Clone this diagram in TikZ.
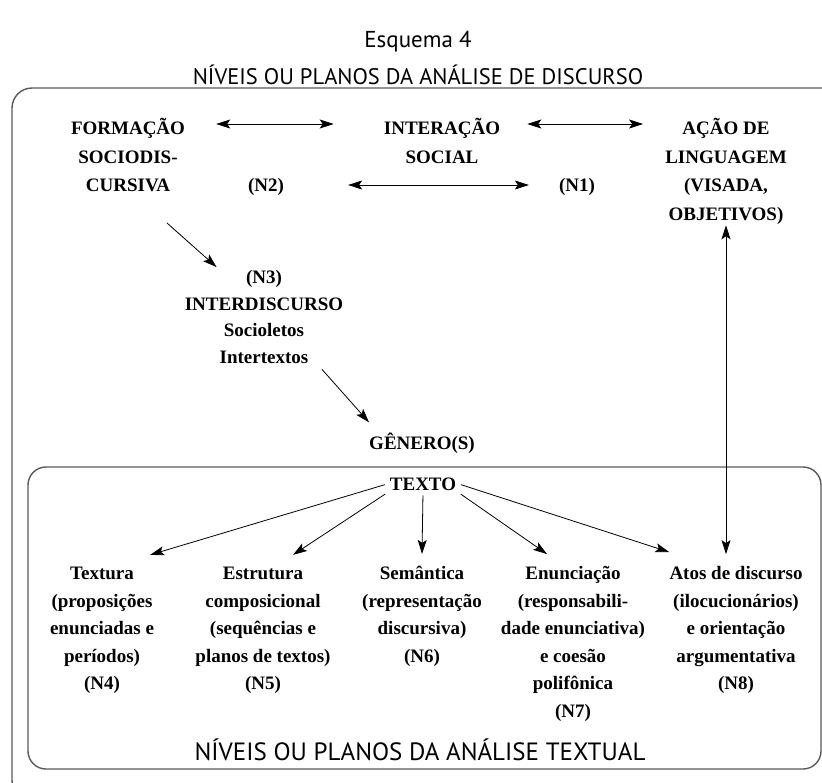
\documentclass[tikz,border=0pt]{standalone}
\usepackage{fontspec}
\setmainfont{Liberation Serif}
\newfontfamily\titlefont{PT Sans}
\usetikzlibrary{arrows.meta,positioning}

\tikzset{
  lvl/.style={font=\fontsize{19}{#1}\selectfont\bfseries, align=center, inner sep=2pt, anchor=base},
  lvl/.default=27.5,
  frame/.style={draw=black!65, line width=1.4pt},
  link/.style={line width=0.8pt, -{Stealth[length=14pt,width=9pt,inset=3pt]}},
  dlink/.style={line width=0.8pt, {Stealth[length=14pt,width=9pt,inset=3pt]}-{Stealth[length=14pt,width=9pt,inset=3pt]}},
}

\begin{document}
\begin{tikzpicture}[x=1pt,y=-1pt]
\useasboundingbox (0,0) rectangle (822,782);
\clip (0,0) rectangle (822,782);

% titles
\node[font=\titlefont\fontsize{23}{27}\selectfont] (esquema) at (418,42) {Esquema 4};
\node[font=\titlefont\fontsize{22.5}{26}\selectfont] (titulo) at (418,75) {NÍVEIS OU PLANOS DA ANÁLISE DE DISCURSO};

% frames
\draw[frame, rounded corners=20pt] (12,88) rectangle (860,800);
\draw[frame, rounded corners=18pt] (28,467) rectangle (821,769);

% discourse levels (base = last line)
\node[lvl=28.5] (formacao) at (128,191.5) {FORMAÇÃO\\SOCIODIS-\\CURSIVA};
\node[lvl=28.5] (interacao) at (442,163) {INTERAÇÃO\\SOCIAL};
\node[lvl=28.5] (acao) at (726,220) {AÇÃO DE\\LINGUAGEM\\(VISADA,\\OBJETIVOS)};
\node[lvl] (n2) at (266,191.5) {(N2)};
\node[lvl] (n1) at (577,191.5) {(N1)};
\node[lvl=26.5] (interd) at (264,363) {(N3)\\INTERDISCURSO\\Socioletos\\Intertextos};
\node[lvl] (genero) at (422,449) {GÊNERO(S)};

% textual levels
\node[lvl] (texto) at (423,490) {TEXTO};
\node[lvl] (textura) at (102,689.5) {Textura\\(proposições\\enunciadas e\\períodos)\\(N4)};
\node[lvl] (estrutura) at (263,689.5) {Estrutura\\composicional\\(sequências e\\planos de textos)\\(N5)};
\node[lvl] (semantica) at (422,662) {Semântica\\(representação\\discursiva)\\(N6)};
\node[lvl] (enunciacao) at (573,717) {Enunciação\\(responsabili-\\dade enunciativa)\\e coesão\\polifônica\\(N7)};
\node[lvl] (atos) at (736,689.5) {Atos de discurso\\(ilocucionários)\\e orientação\\argumentativa\\(N8)};

\node[font=\titlefont\fontsize{25}{29}\selectfont] (textual) at (420,750) {NÍVEIS OU PLANOS DA ANÁLISE TEXTUAL};

% connectors
\coordinate (r1) at (0,124);
\coordinate (r2) at (0,185);
\draw[dlink, shorten <=29pt, shorten >=48pt] (formacao.east |- r1) -- (interacao.west |- r1);
\draw[dlink, shorten <=25pt, shorten >=20pt] (interacao.east |- r1) -- (acao.west |- r1);
\draw[dlink, shorten <=62pt, shorten >=28pt] (n2.east |- r2) -- (n1.west |- r2);
\draw[link] ([xshift=39pt,yshift=-29pt]formacao.south) -- ([xshift=34pt,yshift=1pt]interd.north west);
\draw[link] ([xshift=58pt,yshift=-4pt]interd.south) -- ([xshift=2pt,yshift=8pt]genero.north west);
\draw[dlink] ([yshift=1pt]acao.south) -- ([yshift=10pt]acao.south |- atos.north);
\draw[link, shorten <=3pt] (texto.west) -- ([xshift=-6pt,yshift=10pt]textura.north east);
\draw[link, shorten <=3pt] (texto.south west) -- ([xshift=30pt,yshift=10pt]estrutura.north);
\draw[link, shorten <=3pt] (texto.south) -- ([yshift=10pt]semantica.north);
\draw[link, shorten <=3pt] (texto.south east) -- ([xshift=-26pt,yshift=10pt]enunciacao.north);
\draw[link, shorten <=3pt] (texto.east) -- ([xshift=2pt,yshift=12pt]atos.north west);
\end{tikzpicture}
\end{document}
